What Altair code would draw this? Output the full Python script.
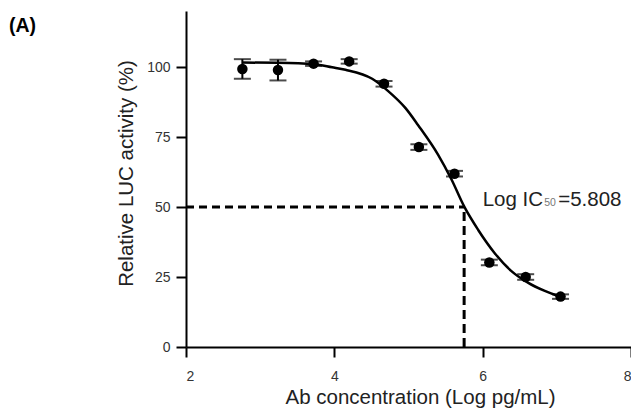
import altair as alt
import pandas as pd

# measured points (log concentration, relative activity, error)
conc = [2.76, 3.24, 3.72, 4.20, 4.67, 5.14, 5.62, 6.09, 6.58, 7.05]
activity = [99.3, 98.9, 101.2, 102.0, 94.0, 71.4, 61.9, 30.2, 25.0, 18.0]
err = [3.5, 3.7, 0.8, 0.8, 1.0, 1.0, 1.0, 1.0, 1.0, 0.8]

# fitted curve
curve_x = [2.76, 3.24, 3.73, 3.97, 4.15, 4.51, 4.73, 4.96, 5.13, 5.40, 5.58,
           5.75, 5.94, 6.16, 6.38, 6.61, 6.83, 7.05]
curve_y = [101.6, 101.5, 101.0, 99.9, 99.0, 95.8, 91.3, 85.3, 79.2, 68.6, 59.8,
           50.2, 41.8, 33.6, 27.3, 23.0, 20.1, 17.9]

# IC50 guide lines and label
x_start = 2.0
ic50_x = 5.75
half_y = 50
label_x = 6.0
label_y = 50.2

x_ticks = [2, 4, 6, 8]
y_ticks = [0, 25, 50, 75, 100]

FONT = "Liberation Sans"

pts = pd.DataFrame({"x": conc, "y": activity,
                    "lo": [a - e for a, e in zip(activity, err)],
                    "hi": [a + e for a, e in zip(activity, err)]})
crv = pd.DataFrame({"x": curve_x, "y": curve_y})
hline = pd.DataFrame({"x": [x_start], "x2": [ic50_x], "y": [half_y]})
vline = pd.DataFrame({"x": [ic50_x], "y": [0], "y2": [half_y]})
lab = pd.DataFrame({"x": [label_x], "y": [label_y]})

xs = alt.Scale(domain=[2, 8], nice=False, zero=False)
ys = alt.Scale(domain=[0, 120], nice=False)

xax = alt.Axis(values=x_ticks, format="d", title="Ab concentration (Log pg/mL)",
               titleX=234, titleY=56.5, titleBaseline="alphabetic", labelPadding=12)
yax = alt.Axis(values=y_ticks, format="d", title="Relative LUC activity (%)",
               titleX=-50, titleY=162, labelPadding=6)

base = alt.Chart(pts)

curve = alt.Chart(crv).mark_line(color="black", strokeWidth=2.5, interpolate="monotone").encode(
    x=alt.X("x:Q", scale=xs, axis=xax),
    y=alt.Y("y:Q", scale=ys, axis=yax),
)

hdash = alt.Chart(hline).mark_rule(color="black", strokeWidth=3, strokeDash=[8, 5]).encode(
    x="x:Q", x2="x2:Q", y="y:Q")
vdash = alt.Chart(vline).mark_rule(color="black", strokeWidth=3, strokeDash=[9, 5]).encode(
    x="x:Q", y="y:Q", y2="y2:Q")

bars = base.mark_rule(color="black", strokeWidth=2).encode(x="x:Q", y="lo:Q", y2="hi:Q")
cap_lo = base.mark_tick(color="black", orient="horizontal", size=17, thickness=2).encode(x="x:Q", y="lo:Q")
cap_hi = base.mark_tick(color="black", orient="horizontal", size=17, thickness=2).encode(x="x:Q", y="hi:Q")
dots = base.mark_point(filled=True, shape="circle", color="black", opacity=1, size=110).encode(
    x="x:Q", y="y:Q")

t1 = alt.Chart(lab).mark_text(text="Log IC", align="left", baseline="alphabetic",
                              font=FONT, fontSize=20.5, color="#222").encode(x="x:Q", y="y:Q")
t2 = alt.Chart(lab).mark_text(text="50", align="left", baseline="alphabetic", dx=61.5,
                              font=FONT, fontSize=10.5, color="#777").encode(x="x:Q", y="y:Q")
t3 = alt.Chart(lab).mark_text(text="=5.808", align="left", baseline="alphabetic", dx=75.5,
                              font=FONT, fontSize=20.5, color="#222").encode(x="x:Q", y="y:Q")

chart = alt.layer(curve, hdash, vdash, bars, cap_lo, cap_hi, dots, t1, t2, t3).properties(
    width=445, height=336,
    autosize=alt.AutoSizeParams(type="none"),
    padding={"left": 178, "top": 3, "right": 0, "bottom": 61},
    title=alt.TitleParams("(A)", anchor="start", frame="group", orient="top",
                          dx=-177, dy=40, offset=0, baseline="alphabetic",
                          font=FONT, fontSize=19.5, fontWeight="bold", color="black"),
).configure_view(stroke=None).configure_axis(
    grid=False, domainColor="black", domainWidth=2, tickColor="black", tickWidth=2,
    tickSize=10, labelFont=FONT, labelFontSize=14, labelColor="#333",
    titleFont=FONT, titleFontSize=20.5, titleFontWeight="normal", titleColor="#222",
)

chart.save("out.html", embed_options={"renderer": "svg", "actions": False})
